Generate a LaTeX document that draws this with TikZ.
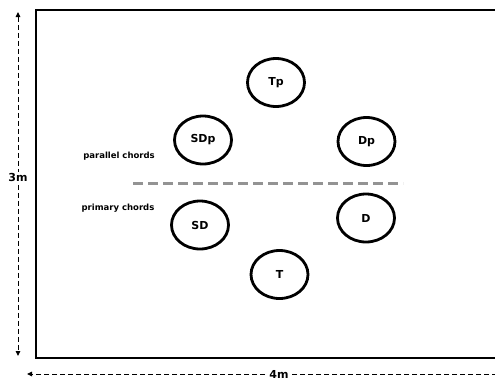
\documentclass[tikz,border=0pt]{standalone}
\usepackage{fontspec}
\setmainfont{DejaVu Sans}
\usetikzlibrary{arrows.meta,shapes.geometric}
\begin{document}
\begin{tikzpicture}[x=1pt,y=-1pt,
  chord/.style={draw,line width=2.8pt,ellipse,minimum width=57pt,minimum height=48pt,inner sep=0pt,font=\fontsize{11}{13}\selectfont\bfseries},
  grp/.style={font=\fontsize{8.5}{10}\selectfont\bfseries},
  dim/.style={dashed,dash pattern=on 5pt off 3pt,line width=1pt,-{Triangle[width=4.5pt,length=5pt]}},
  dimlabel/.style={fill=white,inner sep=1pt,font=\fontsize{11}{13}\selectfont\bfseries}]
\useasboundingbox (0,0) rectangle (495,381);
% room
\coordinate (tr) at (497,10);
\coordinate (tl) at (36,10);
\coordinate (bl) at (36,358);
\coordinate (br) at (497,358);
\draw[line width=2.2pt] (tr) -- (tl) -- (bl) -- (br);
% dimension arrows
\coordinate (vtop) at (18,12);
\coordinate (vbot) at (18,356);
\coordinate (vmid) at (18,177);
\draw[dim,{Triangle[width=4.5pt,length=5pt]}-{Triangle[width=4.5pt,length=5pt]}] (vtop) -- (vbot);
\node[dimlabel] (h3) at (vmid) {3m};
\coordinate (hleft) at (27,374);
\coordinate (hright) at (497,374);
\draw[dim] (hright) -- (hleft);
\node[dimlabel] (w4) at (279,374) {4m};
% chords
\node[chord] (Tp) at (276,82.5) {Tp};
\node[chord] (SDp) at (203,140) {SDp};
\node[chord] (Dp) at (366.5,141.5) {Dp};
\node[chord] (SD) at (200,225) {SD};
\node[chord] (D) at (366,218) {D};
\node[chord] (T) at (279.5,274.5) {T};
% divider
\coordinate (dl) at (133,183);
\coordinate (dr) at (403,183);
\draw[gray!85,line width=3pt,dash pattern=on 10pt off 5pt] (dl) -- (dr);
\node[grp] (par) at (119,156) {parallel chords};
\node[grp] (pri) at (118,208) {primary chords};
\end{tikzpicture}
\end{document}
